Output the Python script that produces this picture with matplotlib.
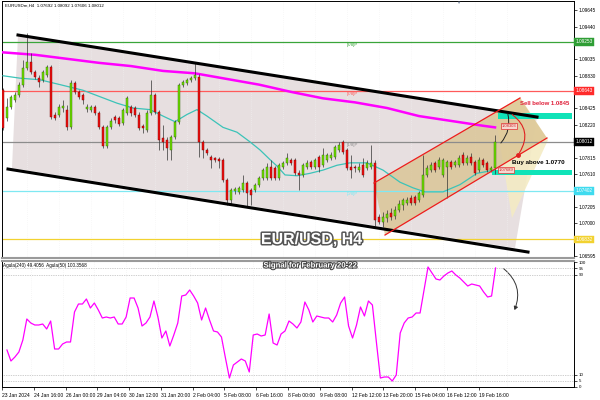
import numpy as np
import matplotlib.pyplot as plt
import matplotlib.patheffects as pe
from matplotlib.patches import Polygon, Rectangle, FancyArrowPatch

plt.rcParams['font.family'] = ['Liberation Sans', 'DejaVu Sans']

# H4 candles, EURUSD 23 Jan - 20 Feb 2024
opens = [1.0865, 1.0831, 1.0844, 1.0853, 1.0859, 1.0872, 1.0893, 1.0900, 1.0888, 1.0880,
         1.0878, 1.0884, 1.0894, 1.0834, 1.0834, 1.0843, 1.0841, 1.0819, 1.0874, 1.0863,
         1.0859, 1.0842, 1.0841, 1.0844, 1.0837, 1.0819, 1.0796, 1.0819, 1.0832, 1.0831,
         1.0824, 1.0837, 1.0844, 1.0843, 1.0834, 1.0821, 1.0816, 1.0837, 1.0859, 1.0838,
         1.0806, 1.0803, 1.0791, 1.0807, 1.0826, 1.0872, 1.0874, 1.0878, 1.0880, 1.0881,
         1.0801, 1.0791, 1.0782, 1.0781, 1.0780, 1.0779, 1.0754, 1.0729, 1.0740, 1.0739,
         1.0741, 1.0750, 1.0741, 1.0741, 1.0748, 1.0756, 1.0756, 1.0770, 1.0769, 1.0756,
         1.0770, 1.0775, 1.0779, 1.0779, 1.0762, 1.0760, 1.0770, 1.0776, 1.0770, 1.0782,
         1.0772, 1.0779, 1.0781, 1.0782, 1.0791, 1.0801, 1.0791, 1.0770, 1.0770, 1.0766,
         1.0772, 1.0769, 1.0770, 1.0775, 1.0708, 1.0702, 1.0707, 1.0713, 1.0709, 1.0717,
         1.0723, 1.0725, 1.0731, 1.0733, 1.0729, 1.0735, 1.0760, 1.0766, 1.0775, 1.0770,
         1.0760, 1.0770, 1.0776, 1.0772, 1.0772, 1.0785, 1.0775, 1.0782, 1.0776, 1.0766,
         1.0779, 1.0775, 1.0766, 1.07692]
highs = [1.0868, 1.0855, 1.0859, 1.0863, 1.0875, 1.0903, 1.0936, 1.0911, 1.0890, 1.0884,
         1.0890, 1.0896, 1.0896, 1.0838, 1.0848, 1.0853, 1.0847, 1.0878, 1.0877, 1.0865,
         1.0862, 1.0848, 1.0847, 1.0847, 1.0839, 1.0822, 1.0822, 1.0831, 1.0834, 1.0833,
         1.0843, 1.0858, 1.0847, 1.0846, 1.0838, 1.0823, 1.0841, 1.0878, 1.0862, 1.0841,
         1.0822, 1.0807, 1.0810, 1.0828, 1.0874, 1.0878, 1.0880, 1.0883, 1.0899, 1.0885,
         1.0803, 1.0793, 1.0785, 1.0782, 1.0782, 1.0781, 1.0756, 1.0744, 1.0745, 1.0746,
         1.0760, 1.0753, 1.0744, 1.0750, 1.0759, 1.0769, 1.0775, 1.0779, 1.0771, 1.0775,
         1.0777, 1.0787, 1.0781, 1.0781, 1.0766, 1.0775, 1.0779, 1.0779, 1.0781, 1.0785,
         1.0793, 1.0787, 1.0789, 1.0797, 1.0801, 1.0803, 1.0793, 1.0785, 1.0772, 1.0775,
         1.0781, 1.0779, 1.0797, 1.0779, 1.0712, 1.0714, 1.0717, 1.0719, 1.0722, 1.0729,
         1.0731, 1.0733, 1.0735, 1.0735, 1.0740, 1.0785, 1.0772, 1.0776, 1.0777, 1.0782,
         1.0781, 1.0779, 1.0779, 1.0779, 1.0785, 1.0789, 1.0785, 1.0787, 1.0779, 1.0782,
         1.0781, 1.0777, 1.0771, 1.08092]
lows = [1.0816, 1.0827, 1.0842, 1.0850, 1.0857, 1.0869, 1.0890, 1.0885, 1.0879, 1.0869,
        1.0875, 1.0881, 1.0829, 1.0828, 1.0832, 1.0838, 1.0816, 1.0817, 1.0860, 1.0854,
        1.0848, 1.0838, 1.0838, 1.0834, 1.0817, 1.0793, 1.0793, 1.0817, 1.0824, 1.0821,
        1.0822, 1.0834, 1.0833, 1.0832, 1.0816, 1.0812, 1.0813, 1.0834, 1.0836, 1.0791,
        1.0791, 1.0779, 1.0779, 1.0805, 1.0823, 1.0869, 1.0872, 1.0875, 1.0878, 1.0782,
        1.0781, 1.0785, 1.0769, 1.0776, 1.0769, 1.0751, 1.0723, 1.0723, 1.0736, 1.0736,
        1.0739, 1.0720, 1.0723, 1.0739, 1.0745, 1.0754, 1.0754, 1.0754, 1.0754, 1.0754,
        1.0767, 1.0772, 1.0772, 1.0760, 1.0741, 1.0757, 1.0767, 1.0767, 1.0767, 1.0764,
        1.0770, 1.0776, 1.0779, 1.0780, 1.0789, 1.0786, 1.0766, 1.0756, 1.0764, 1.0764,
        1.0757, 1.0766, 1.0767, 1.0697, 1.0699, 1.0696, 1.0702, 1.0704, 1.0705, 1.0714,
        1.0717, 1.0723, 1.0723, 1.0723, 1.0726, 1.0733, 1.0757, 1.0764, 1.0764, 1.0767,
        1.0757, 1.0731, 1.0767, 1.0770, 1.0770, 1.0772, 1.0772, 1.0772, 1.0760, 1.0764,
        1.0770, 1.0764, 1.0764, 1.07606]
closes = [1.0818, 1.0844, 1.0857, 1.0859, 1.0872, 1.0893, 1.0900, 1.0888, 1.0881, 1.0875,
          1.0888, 1.0894, 1.0832, 1.0831, 1.0844, 1.0846, 1.0819, 1.0874, 1.0863, 1.0857,
          1.0853, 1.0844, 1.0844, 1.0837, 1.0819, 1.0796, 1.0819, 1.0827, 1.0828, 1.0823,
          1.0841, 1.0855, 1.0837, 1.0834, 1.0818, 1.0818, 1.0837, 1.0859, 1.0838, 1.0803,
          1.0801, 1.0793, 1.0807, 1.0826, 1.0872, 1.0875, 1.0878, 1.0880, 1.0884, 1.0801,
          1.0791, 1.0787, 1.0779, 1.0779, 1.0777, 1.0754, 1.0729, 1.0741, 1.0743, 1.0744,
          1.0750, 1.0738, 1.0735, 1.0748, 1.0756, 1.0766, 1.0770, 1.0756, 1.0756, 1.0772,
          1.0775, 1.0781, 1.0775, 1.0762, 1.0760, 1.0772, 1.0775, 1.0770, 1.0779, 1.0770,
          1.0785, 1.0785, 1.0785, 1.0795, 1.0797, 1.0789, 1.0769, 1.0766, 1.0769, 1.0770,
          1.0760, 1.0775, 1.0775, 1.0704, 1.0702, 1.0708, 1.0712, 1.0708, 1.0717, 1.0724,
          1.0729, 1.0729, 1.0725, 1.0725, 1.0738, 1.0760, 1.0769, 1.0772, 1.0766, 1.0779,
          1.0779, 1.0776, 1.0770, 1.0776, 1.0781, 1.0775, 1.0781, 1.0775, 1.0762, 1.0779,
          1.0772, 1.0766, 1.0769, 1.08012]

# moving averages (bar position, price)
ma_fast_x = [0, 4.25, 9.25, 14.25, 20, 24.25, 28.5, 32.5, 36.75, 40, 43, 46, 48.5, 51, 55,
             58.5, 61.75, 64.25, 66.75, 68.5, 70.5, 73.5, 76.75, 80, 83.5, 86.75, 91, 95,
             99.25, 102.5, 105.5, 110, 114.25, 118.5, 121.75, 123]
ma_fast = [1.0883, 1.0880, 1.0878, 1.0872, 1.0865, 1.0857, 1.0849, 1.0843, 1.0841, 1.0833,
           1.0826, 1.0835, 1.0841, 1.0833, 1.0819, 1.0813, 1.0801, 1.0791, 1.0779, 1.0771,
           1.0760, 1.0759, 1.0762, 1.0766, 1.0772, 1.0775, 1.0775, 1.0766, 1.0751, 1.0744,
           1.0739, 1.0739, 1.0748, 1.0762, 1.0765, 1.0766]
ma_slow_x = [0, 8, 16, 24, 32, 40, 48, 56, 64, 72, 80, 88, 96, 104, 112, 120, 123]
ma_slow = [1.0912, 1.0909, 1.0904, 1.0899, 1.0895, 1.0889, 1.0886, 1.0879, 1.0872, 1.0863,
           1.0855, 1.0850, 1.0843, 1.0833, 1.0827, 1.0821, 1.0819]

# oscillator, one value per bar
rsi = [29.6, 20.8, 24.0, 28.0, 37.6, 54.4, 51.2, 49.6, 49.6, 50.4,
       46.4, 52.8, 30.4, 30.4, 34.4, 36.0, 36.0, 60.0, 66.4, 66.4,
       70.4, 63.2, 67.2, 61.6, 55.2, 56.0, 55.2, 56.0, 50.4, 50.4,
       56.0, 71.2, 71.2, 63.2, 48.8, 51.2, 56.0, 68.8, 56.0, 39.2,
       44.8, 32.8, 41.6, 51.2, 72.8, 73.6, 77.6, 72.8, 67.2, 53.6,
       63.2, 53.6, 44.8, 44.0, 40.0, 23.2, 7.2, 17.6, 20.0, 22.4,
       20.8, 12.0, 41.6, 42.4, 40.8, 41.6, 58.4, 35.2, 33.6, 42.4,
       44.8, 52.8, 50.4, 47.2, 52.0, 68.0, 61.6, 52.0, 56.8, 56.0,
       55.2, 55.2, 52.0, 57.6, 67.2, 72.0, 48.8, 39.2, 49.6, 64.0,
       56.8, 68.8, 65.6, 36.0, 7.2, 8.0, 8.0, 4.8, 9.6, 43.2,
       51.2, 55.2, 56.0, 59.2, 59.2, 77.6, 96.0, 91.2, 86.4, 85.6,
       88.8, 91.2, 92.8, 89.6, 87.2, 84.0, 80.8, 82.4, 81.6, 80.8,
       76.0, 72.0, 72.8, 95.2]

time_labels = ["23 Jan 2024", "24 Jan 16:00", "26 Jan 00:00", "29 Jan 04:00", "30 Jan 12:00",
               "31 Jan 20:00", "2 Feb 04:00", "5 Feb 08:00", "6 Feb 16:00", "8 Feb 00:00",
               "9 Feb 08:00", "12 Feb 12:00", "13 Feb 20:00", "15 Feb 04:00", "16 Feb 12:00",
               "19 Feb 16:00"]
price_ticks = [1.09645, 1.09440, 1.09035, 1.08830, 1.08425, 1.08220, 1.07815, 1.07610,
               1.07205, 1.07000, 1.06595]
rsi_ticks = [100, 95, 90, 10, 5, 0]

# murrey levels: price, colour, label
levels = [(1.09253, '#3aa53a', '[3/8]P'), (1.08643, '#ff5a5a', '[2/8]P'),
          (1.08012, '#8c8c8c', '[1/8]P'), (1.07402, '#7fe8f2', '[0/8]P'),
          (1.06800, '#f2d230', None)]
boxes = [(1.09253, '1.09253', '#2f9e35'), (1.08643, '1.08643', '#ff2a2a'),
         (1.08012, '1.08012', '#000000'), (1.07402, '1.07402', '#3fdbef'),
         (1.06800, '1.06832', '#f2d230')]

n = len(closes)
x = np.arange(n)
o = np.array(opens); c = np.array(closes); h = np.array(highs); l = np.array(lows)

fig = plt.figure(figsize=(6, 4), dpi=100)
fig.patch.set_facecolor('white')
ax = fig.add_axes([2 / 600, 1 - 258 / 400, 572 / 600, 257 / 400])
ax2 = fig.add_axes([2 / 600, 1 - 387 / 400, 572 / 600, 126 / 400])

ax.set_xlim(-0.25, 142.75)
ax.set_ylim(1.06570, 1.09757)
ax2.set_xlim(-0.25, 142.75)
ax2.set_ylim(0, 100.8)

# descending channel
ax.add_patch(Polygon([(3.75, 1.09335), (133.5, 1.08318), (128, 1.06694), (2.25, 1.07686)],
                     closed=True, facecolor='#e7dfe0', edgecolor='none', zorder=0))
# ascending channel fill
ax.add_patch(Polygon([(123, 1.08368), (129.25, 1.08566), (136.25, 1.08033), (127.25, 1.07066)],
                     closed=True, facecolor='#f4ebc4', edgecolor='none', alpha=0.9, zorder=1))
ax.add_patch(Polygon([(92.75, 1.0750), (129.25, 1.08554), (136, 1.08058), (95.5, 1.06855)],
                     closed=True, facecolor='#d9c28e', edgecolor='none', alpha=0.75, zorder=1))

for price, col, lab in levels:
    ax.axhline(price, color=col, lw=0.9, zorder=2)
    if lab:
        ax.text(86, price - 0.00012, lab, color=col, fontsize=3.2, ha='left', va='top', zorder=2)

# highlight zones
ax.add_patch(Rectangle((123.75, 1.08293), 18.5, 0.00075, facecolor='#10e3b8',
                       edgecolor='none', zorder=2))
ax.add_patch(Rectangle((122.25, 1.07599), 20, 0.00062, facecolor='#10e3b8',
                       edgecolor='none', zorder=2))

ax.plot(ma_slow_x, ma_slow, color='#ff00ff', lw=1.8, zorder=3)
ax.plot(ma_fast_x, ma_fast, color='#3cc3b8', lw=0.9, zorder=3)

# candles
up = c >= o
ax.vlines(x, l, h, color='#333333', lw=0.5, zorder=4)
body_b = np.minimum(o, c)
body_h = np.maximum(np.abs(c - o), 0.00004)
ax.bar(x[up], body_h[up], bottom=body_b[up], width=0.62, color='#6fe000',
       edgecolor='#2f6400', lw=0.3, zorder=5)
ax.bar(x[~up], body_h[~up], bottom=body_b[~up], width=0.62, color='#f01010',
       edgecolor='#7a0000', lw=0.3, zorder=5)

# channel borders
ax.plot([3.75, 133.5], [1.09335, 1.08318], color='black', lw=2.2, zorder=6)
ax.plot([1.25, 131.25], [1.07673, 1.06644], color='black', lw=2.2, zorder=6)
ax.plot([92.75, 129.25], [1.0750, 1.08554], color='#ee1c1c', lw=0.9, zorder=6)
ax.plot([95.5, 136], [1.06855, 1.08058], color='#ee1c1c', lw=0.9, zorder=6)

# arrows on the last candle
ax.add_patch(FancyArrowPatch((126.75, 1.08368), (128.75, 1.07847), arrowstyle='-',
                             connectionstyle='arc3,rad=-0.5', color='#e02020', lw=0.8, zorder=7))
ax.plot([128.75], [1.07847], 'o', color='#e02020', ms=2.5, zorder=7)
ax.add_patch(FancyArrowPatch((126, 1.08393), (124, 1.07971), arrowstyle='-',
                             connectionstyle='arc3,rad=-0.3', color='#202020', lw=0.7, zorder=7))

for xx, yy, txt in [(126.5, 1.0821, '1.08303'), (125.75, 1.0766, '1.07689')]:
    ax.text(xx, yy, txt, fontsize=3, color='#d02020', ha='center', va='center', zorder=8,
            bbox=dict(boxstyle='square,pad=0.25', fc='#f6d8d0', ec='#e03030', lw=0.5))

ax.text(129.25, 1.0849, 'Sell below 1.0845', color='#e0203a', fontsize=4.3,
        fontweight='bold', ha='left', va='center', zorder=8)
ax.text(127.3, 1.0775, 'Buy above 1.0770', color='black', fontsize=4.5,
        fontweight='bold', ha='left', va='center', zorder=8)
ax.text(77.25, 1.0680, 'EUR/USD, H4', color='white', fontsize=11.5, fontweight='bold',
        ha='center', va='center', zorder=8,
        path_effects=[pe.withStroke(linewidth=2.2, foreground='#555555')])
ax.text(0.006, 0.982, 'EURUSDm,H4  1.07692 1.08092 1.07606 1.08012', transform=ax.transAxes,
        fontsize=3.2, ha='left', va='center', color='black')

# price scale
ax.yaxis.tick_right()
ax.set_yticks(price_ticks)
ax.set_yticklabels(['%.5f' % p for p in price_ticks])
ax.tick_params(axis='y', labelsize=3.4, length=2, width=0.5, pad=1.5)
ax.set_xticks([])
for p, txt, col in boxes:
    ax.text(1.003, p, txt, transform=ax.get_yaxis_transform(), fontsize=3.4, color='white',
            ha='left', va='center', zorder=9, clip_on=False,
            bbox=dict(boxstyle='square,pad=0.3', fc=col, ec=col, lw=0.3))

# oscillator panel
for lvl in [95, 90, 10, 5]:
    ax2.axhline(lvl, color='#a0a0a0', lw=0.5, ls=(0, (1, 1.5)))
for k in range(len(time_labels)):
    ax2.axvline(8 * k + 6, color='#eeeeee', lw=0.5, ls=(0, (1, 2)))
    ax.axvline(8 * k + 6, color='#f2f2f2', lw=0.5, ls=(0, (1, 2)), zorder=0)
ax2.plot(x, rsi, color='#ff00ff', lw=0.9)
ax2.yaxis.tick_right()
ax2.set_yticks(rsi_ticks)
ax2.set_yticklabels([str(v) for v in rsi_ticks])
ax2.tick_params(axis='y', labelsize=3.2, length=2, width=0.5, pad=1.5)
ax2.set_xticks([8 * k - 1.25 for k in range(len(time_labels))])
ax2.set_xticklabels(time_labels)
ax2.tick_params(axis='x', labelsize=3.6, length=2, width=0.5, pad=2)
for lbl in ax2.get_xticklabels():
    lbl.set_ha('left')
ax2.text(0.002, 0.965, 'Agula(240) 49.4056  Agula(50) 100.3568', transform=ax2.transAxes,
         fontsize=3.3, ha='left', va='center')
ax2.add_patch(FancyArrowPatch((124.5, 96), (127.5, 59.5), arrowstyle='-|>,head_length=2,head_width=1.2',
                              connectionstyle='arc3,rad=-0.4', color='#333333', lw=0.7))

for a in (ax, ax2):
    for s in a.spines.values():
        s.set_color('black')
        s.set_linewidth(0.7)
ax.spines['bottom'].set_color('#9a9a9a')
ax.spines['bottom'].set_linewidth(1.5)
ax2.spines['top'].set_color('#9a9a9a')
ax2.spines['top'].set_linewidth(1.5)

fig.text(310 / 600, 1 - 266 / 400, 'Signal for February 20-22', color='white', fontsize=5.6,
         fontweight='bold', ha='center', va='center',
         path_effects=[pe.withStroke(linewidth=1.6, foreground='#4a4a4a')])
fig.text(458 / 600, 1 - 3 / 400, '\u25bc', color='#8090a8', fontsize=3, ha='center', va='center')

fig.savefig('out.png', dpi=100)
